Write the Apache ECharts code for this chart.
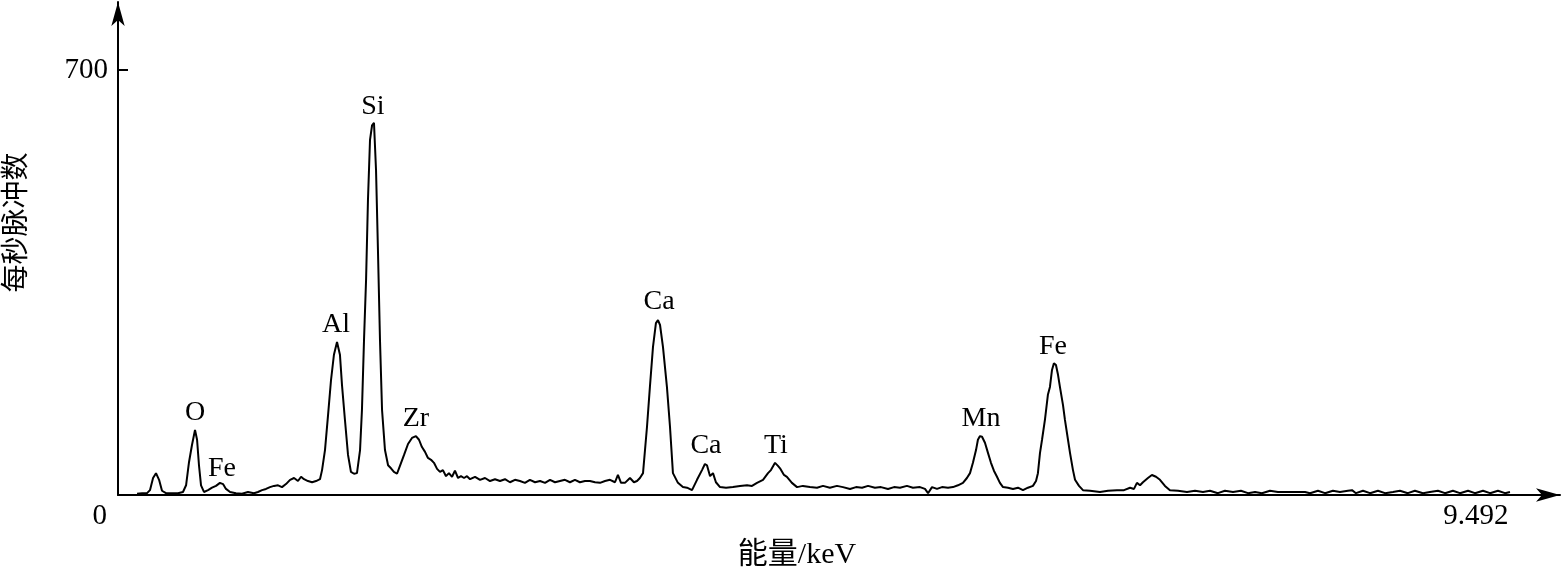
<!DOCTYPE html>
<html>
<head>
<meta charset="utf-8">
<script src="https://cdn.jsdelivr.net/npm/echarts@6/dist/echarts.min.js"></script>
<style>html,body{margin:0;padding:0;background:#fff;}#c{width:1562px;height:569px;}</style>
</head>
<body>
<div id="c"></div>
<script>
// Energy (keV) and counts
const energy = [0.130,0.164,0.198,0.218,0.239,0.259,0.280,0.300,0.327,0.368,0.409,0.443,0.464,0.484,0.504,0.525,0.539,0.552,0.566,0.586,0.614,0.641,0.668,0.695,0.716,0.736,0.764,0.804,0.845,0.886,0.927,0.954,0.982,1.009,1.036,1.063,1.091,1.118,1.145,1.173,1.200,1.227,1.248,1.268,1.295,1.323,1.350,1.377,1.391,1.411,1.432,1.452,1.472,1.493,1.513,1.527,1.547,1.568,1.588,1.609,1.629,1.650,1.663,1.677,1.691,1.704,1.718,1.732,1.745,1.759,1.772,1.786,1.800,1.820,1.841,1.861,1.881,1.902,1.922,1.950,1.977,2.004,2.031,2.052,2.072,2.093,2.113,2.134,2.154,2.175,2.195,2.215,2.236,2.256,2.277,2.297,2.318,2.338,2.359,2.379,2.400,2.434,2.468,2.502,2.536,2.570,2.604,2.638,2.672,2.706,2.740,2.774,2.808,2.843,2.877,2.911,2.945,2.979,3.013,3.047,3.081,3.115,3.149,3.183,3.217,3.252,3.286,3.320,3.354,3.388,3.408,3.429,3.456,3.490,3.517,3.538,3.558,3.579,3.606,3.626,3.647,3.667,3.681,3.695,3.715,3.742,3.763,3.783,3.817,3.851,3.879,3.913,3.947,3.981,4.001,4.015,4.036,4.056,4.076,4.104,4.145,4.192,4.240,4.288,4.322,4.356,4.397,4.431,4.451,4.479,4.499,4.513,4.540,4.560,4.594,4.629,4.669,4.717,4.765,4.806,4.853,4.901,4.942,4.990,5.031,5.072,5.113,5.160,5.201,5.249,5.290,5.331,5.378,5.419,5.467,5.501,5.522,5.549,5.583,5.617,5.658,5.692,5.726,5.760,5.787,5.808,5.828,5.849,5.862,5.876,5.890,5.910,5.931,5.951,5.971,5.992,6.012,6.033,6.067,6.101,6.135,6.169,6.203,6.237,6.258,6.271,6.285,6.299,6.319,6.339,6.353,6.367,6.380,6.394,6.408,6.421,6.442,6.455,6.476,6.490,6.510,6.524,6.551,6.578,6.626,6.694,6.749,6.810,6.858,6.899,6.926,6.946,6.967,6.987,7.021,7.048,7.076,7.103,7.137,7.171,7.226,7.287,7.342,7.396,7.444,7.498,7.546,7.601,7.655,7.703,7.751,7.798,7.853,7.907,7.955,8.092,8.126,8.180,8.228,8.282,8.330,8.384,8.412,8.439,8.487,8.535,8.589,8.637,8.691,8.739,8.793,8.841,8.896,8.943,8.998,9.046,9.100,9.148,9.203,9.250,9.305,9.353,9.407,9.455,9.489];
const counts = [2,3,3,8,28,36,25,7,3,3,3,5,16,54,82,107,91,49,16,5,8,12,15,20,18,10,5,3,2,5,3,5,8,10,13,15,16,13,18,25,28,23,30,26,23,21,23,26,41,74,132,189,231,252,231,181,124,66,38,35,36,74,140,255,354,486,585,609,613,535,404,255,140,74,49,44,38,35,48,66,84,94,97,91,79,71,61,58,53,43,38,41,31,36,30,40,28,31,28,31,26,30,25,28,23,26,23,26,21,25,23,20,25,21,23,20,25,21,23,25,21,25,21,23,23,21,20,23,25,21,33,20,20,28,21,23,28,36,112,178,244,283,288,280,244,178,112,36,20,13,12,8,25,41,51,49,31,36,21,13,12,13,15,16,15,20,25,36,41,53,48,44,33,30,20,13,15,13,12,15,12,15,13,10,13,12,15,12,13,10,13,12,15,12,13,10,3,13,10,13,12,13,16,20,28,36,53,74,91,97,96,86,69,53,40,30,20,13,12,10,12,8,12,15,23,36,69,91,124,165,178,206,217,214,198,178,148,124,91,69,41,25,15,8,7,5,7,8,8,12,10,20,16,21,28,33,30,25,15,8,7,5,7,5,7,3,7,5,7,3,5,3,7,5,5,5,3,7,3,7,5,7,8,3,7,3,7,3,5,7,3,7,3,5,7,3,7,3,7,3,7,3,7,3,5];

// Element labels
const peakNames = ["O","Fe","Al","Si","Zr","Ca","Ca","Ti","Mn","Fe"];
const peakEnergy = [0.525,0.709,1.486,1.738,2.031,3.688,4.008,4.485,5.883,6.374];
const peakLabelCounts = [135,44,280,639,125,318,81,81,125,245];

// Axis texts
const xTickValues = [0, 9.492];
const xTickLabels = ["0", "9.492"];
const yTickValues = [700];
const xName = "能量/keV";
const yName = "每秒脉冲数";

const serif = "'Liberation Serif', 'Noto Sans CJK SC', serif";
const chart = echarts.init(document.getElementById('c'), null, {renderer: 'canvas'});
chart.setOption({
  animation: false,
  backgroundColor: '#fff',
  grid: {left: 118, right: 2, top: 2, bottom: 74, containLabel: false, outerBoundsMode: 'none'},
  xAxis: {
    type: 'value', min: 0, max: 9.83,
    name: xName, nameLocation: 'middle', nameGap: 45,
    nameTextStyle: {color: '#000', fontSize: 30, fontFamily: serif, padding: [0, 84, 0, 0]},
    axisLine: {show: true, onZero: false, symbol: ['none', 'arrow'], symbolSize: [10, 24], lineStyle: {color: '#000', width: 2}},
    axisTick: {show: false},
    splitLine: {show: false},
    axisLabel: {
      customValues: xTickValues,
      formatter: function (v) { const i = xTickValues.indexOf(v); return i === 0 ? '{z|' + xTickLabels[0] + '}' : (i > 0 ? '{e|' + xTickLabels[i] + '}' : ''); },
      color: '#000', fontSize: 29, fontFamily: serif, align: 'right', margin: 7,
      rich: {
        z: {color: '#000', fontSize: 29, fontFamily: serif, padding: [0, 11, 0, 0]},
        e: {color: '#000', fontSize: 29, fontFamily: serif, padding: [0, 2, 0, 0]}
      }
    }
  },
  yAxis: {
    type: 'value', min: 0, max: 812,
    name: yName, nameLocation: 'middle', nameGap: 86, nameRotate: 90,
    nameTextStyle: {color: '#000', fontSize: 28, fontFamily: serif, padding: [0, 0, 0, 52]},
    axisLine: {show: true, onZero: false, symbol: ['none', 'arrow'], symbolSize: [10, 24], lineStyle: {color: '#000', width: 2}},
    axisTick: {show: true, inside: true, length: 10, customValues: yTickValues, lineStyle: {color: '#000', width: 2}},
    splitLine: {show: false},
    axisLabel: {customValues: yTickValues, color: '#000', fontSize: 29, fontFamily: serif, margin: 10}
  },
  series: [
    {
      type: 'line',
      data: energy.map((e, i) => [e, counts[i]]),
      symbol: 'none',
      lineStyle: {color: '#000', width: 2},
      silent: true
    },
    {
      type: 'scatter',
      data: peakEnergy.map((e, i) => ({value: [e, peakLabelCounts[i]], name: peakNames[i]})),
      symbolSize: 0,
      silent: true,
      itemStyle: {color: '#000', opacity: 1},
      label: {show: true, position: 'inside', formatter: p => p.name, color: '#000', opacity: 1, textBorderWidth: 0, fontSize: 28, fontFamily: serif}
    }
  ]
});
</script>
</body>
</html>
